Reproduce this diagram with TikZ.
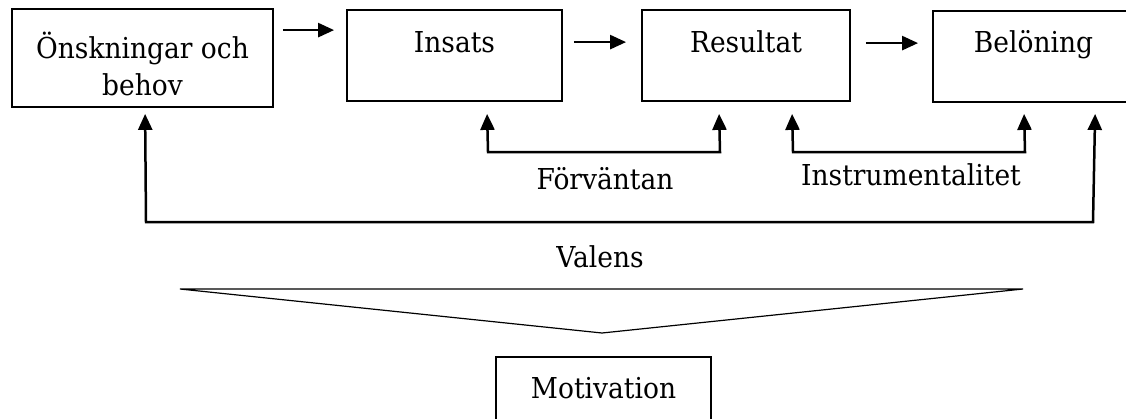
\documentclass[tikz,border=0pt]{standalone}
\usepackage{fontspec}
\setmainfont{DejaVu Serif}[FakeStretch=0.92]
\usetikzlibrary{arrows.meta,calc}
\begin{document}
\begin{tikzpicture}[x=1pt,y=-1pt,
  box/.style={draw,line width=1.8pt,inner sep=0pt,minimum height=91pt},
  lbl/.style={inner sep=0pt,anchor=base,font=\fontsize{28.8}{37}\selectfont},
  arr/.style={line width=2.5pt,-{Triangle[length=16pt,width=14pt]}},
  twoway/.style={line width=2.5pt,line join=miter,
    {Triangle[length=16pt,width=14pt]}-{Triangle[length=16pt,width=14pt]}},
  funnel/.style={line width=1.2pt,line join=miter}]
\useasboundingbox (0,0) rectangle (1126,418);
\clip (0,0) rectangle (1126,418);
\fill[white] (0,0) rectangle (1126,418);

% boxes of the chain; the last one and the result box run past the page edge
\node[box,minimum width=261pt,minimum height=98pt] (b1) at (142.5,58) {};
\node[box,minimum width=215pt] (b2) at (454.5,55.5) {};
\node[box,minimum width=208pt] (b3) at (746,55.5) {};
\node[box,minimum width=260pt] (b4) at (1063,56.5) {};
\node[box,minimum width=215pt,minimum height=140pt] (b5) at (603.5,427) {};

% box texts
\node[lbl] (t1a) at (142.5,58) {Önskningar och};
\node[lbl] (t1b) at (142.5,95) {behov};
\node[lbl] (t2) at (454.5,52) {Insats};
\node[lbl] (t3) at (746,52) {Resultat};
\node[lbl] (t4) at (1033.5,52) {Belöning};
\node[lbl] (t5) at (603.5,398) {Motivation};

% relation labels
\node[lbl] (fv) at (605,189) {Förväntan};
\node[lbl] (im) at (911,185) {Instrumentalitet};
\node[lbl] (va) at (600,267) {Valens};

% chain arrows
\draw[arr] ($(b1.north east)+(9,22)$) -- ($(b2.north west)+(-12,21)$);
\draw[arr] ($(b2.north east)+(11,33)$) -- ($(b3.north west)+(-15,33)$);
\draw[arr] ($(b3.north east)+(15,34)$) -- ($(b4.north west)+(-14,33)$);

% expectancy bracket
\coordinate (f1) at (488,152);
\coordinate (f2) at (720,152);
\draw[twoway] ($(b2.south west)+(141,12)$) -- (f1) -- (f2) -- ($(b3.south west)+(78,12)$);

% instrumentality bracket
\coordinate (i1) at (793,152);
\coordinate (i2) at (1025,152);
\draw[twoway] ($(b3.south west)+(151,12)$) -- (i1) -- (i2) -- ($(b4.south west)+(92,11)$);

% valence bracket
\coordinate (v0) at (146,222);
\coordinate (v1) at (1093,222);
\draw[twoway] ($(b1.south west)+(134,6)$) -- (v0) -- (v1) -- ($(b4.south west)+(163,11)$);

% funnel towards motivation
\coordinate (tl) at (180,289);
\coordinate (tr) at (1023,289);
\coordinate (ap) at (602,333);
\draw[funnel] (tl) -- (tr) -- (ap) -- cycle;
\end{tikzpicture}
\end{document}
